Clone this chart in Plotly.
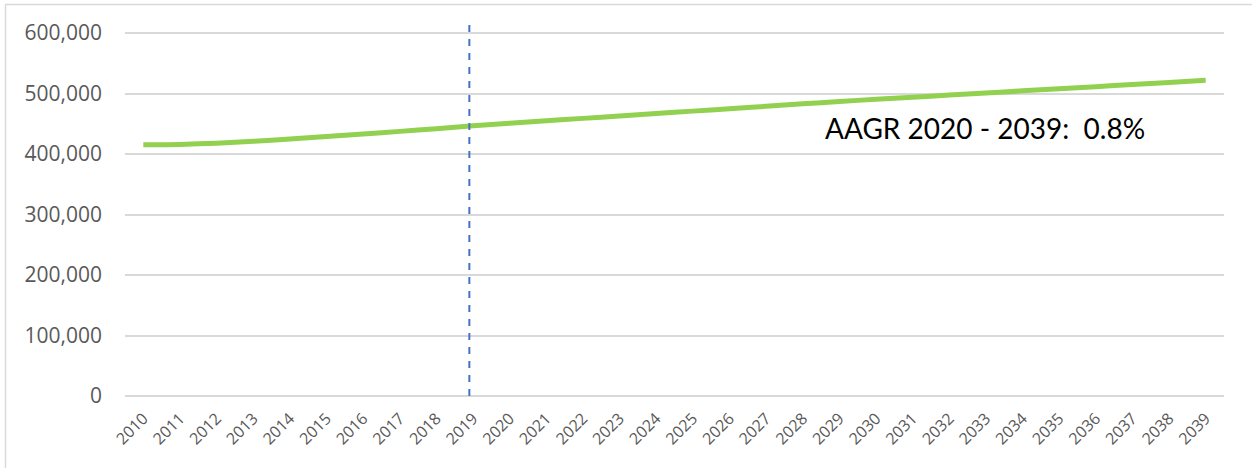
import plotly.graph_objects as go

years = [str(y) for y in range(2010, 2040)]
values = [415500, 416000, 418000, 421000, 425000, 429000, 433000, 437500, 442000, 447000,
          451000, 455000, 459000, 463000, 467000, 471000, 475000, 479000, 483000, 487000,
          490500, 494000, 497500, 501000, 504500, 508000, 511500, 515000, 518500, 522000]
y_ticks = [0, 100000, 200000, 300000, 400000, 500000, 600000]
divider_year = "2019"
annotation_text = "AAGR 2020 - 2039:  0.8%"

W, H = 1252, 468
ml, mr, mt, mb = 125, 28, 21, 72
pw, ph = W - ml - mr, H - mt - mb

fig = go.Figure()
fig.add_trace(go.Scatter(
    x=years, y=values, mode="lines",
    line=dict(color="#92d050", width=5, shape="spline", smoothing=0.6),
    hoverinfo="x+y", showlegend=False,
))

# dashed vertical divider at the divider year's category position
div_idx = years.index(divider_year)
fig.add_shape(type="line", xref="x", yref="y", x0=div_idx - 0.1, x1=div_idx - 0.1,
              y0=0, y1=620000, line=dict(color="#4472c4", width=2, dash="7px,7px"), layer="above")

# outer border (top and left visible, others clipped by window)
fig.add_shape(type="rect", xref="paper", yref="paper",
              x0=(5.5 - ml) / pw, x1=(W + 10 - ml) / pw,
              y0=-(H + 10 - mt - ph) / ph, y1=(H - 4.5 - mb) / ph,
              line=dict(color="#d9d9d9", width=1.5), fillcolor="rgba(0,0,0,0)", layer="below")

fig.add_annotation(text=annotation_text, xref="paper", yref="y",
                   x=(823 - ml) / pw, y=443500, xanchor="left", yanchor="middle",
                   showarrow=False, font=dict(family="Lato, Carlito, sans-serif", size=28, color="#000000"))

fig.update_layout(
    width=W, height=H,
    margin=dict(l=ml, r=mr, t=mt, b=mb, pad=0),
    paper_bgcolor="white", plot_bgcolor="white",
    font=dict(family="Open Sans, sans-serif", color="#595959"),
)
fig.update_xaxes(
    type="category", categoryorder="array", categoryarray=years,
    range=[-0.5, len(years) - 0.5],
    tickangle=-45, tickfont=dict(size=16, color="#595959"),
    showgrid=False, showline=False, zeroline=False, ticks="",
    ticklabelstandoff=9,
)
fig.update_yaxes(
    range=[0, 620000], tickvals=y_ticks, tickformat=",",
    tickfont=dict(size=21, color="#595959"),
    showgrid=True, gridcolor="#d9d9d9", gridwidth=1.5,
    zeroline=True, zerolinecolor="#d9d9d9", zerolinewidth=1.5,
    showline=False, ticks="", ticklabelstandoff=22,
)

fig.write_html("out.html")
